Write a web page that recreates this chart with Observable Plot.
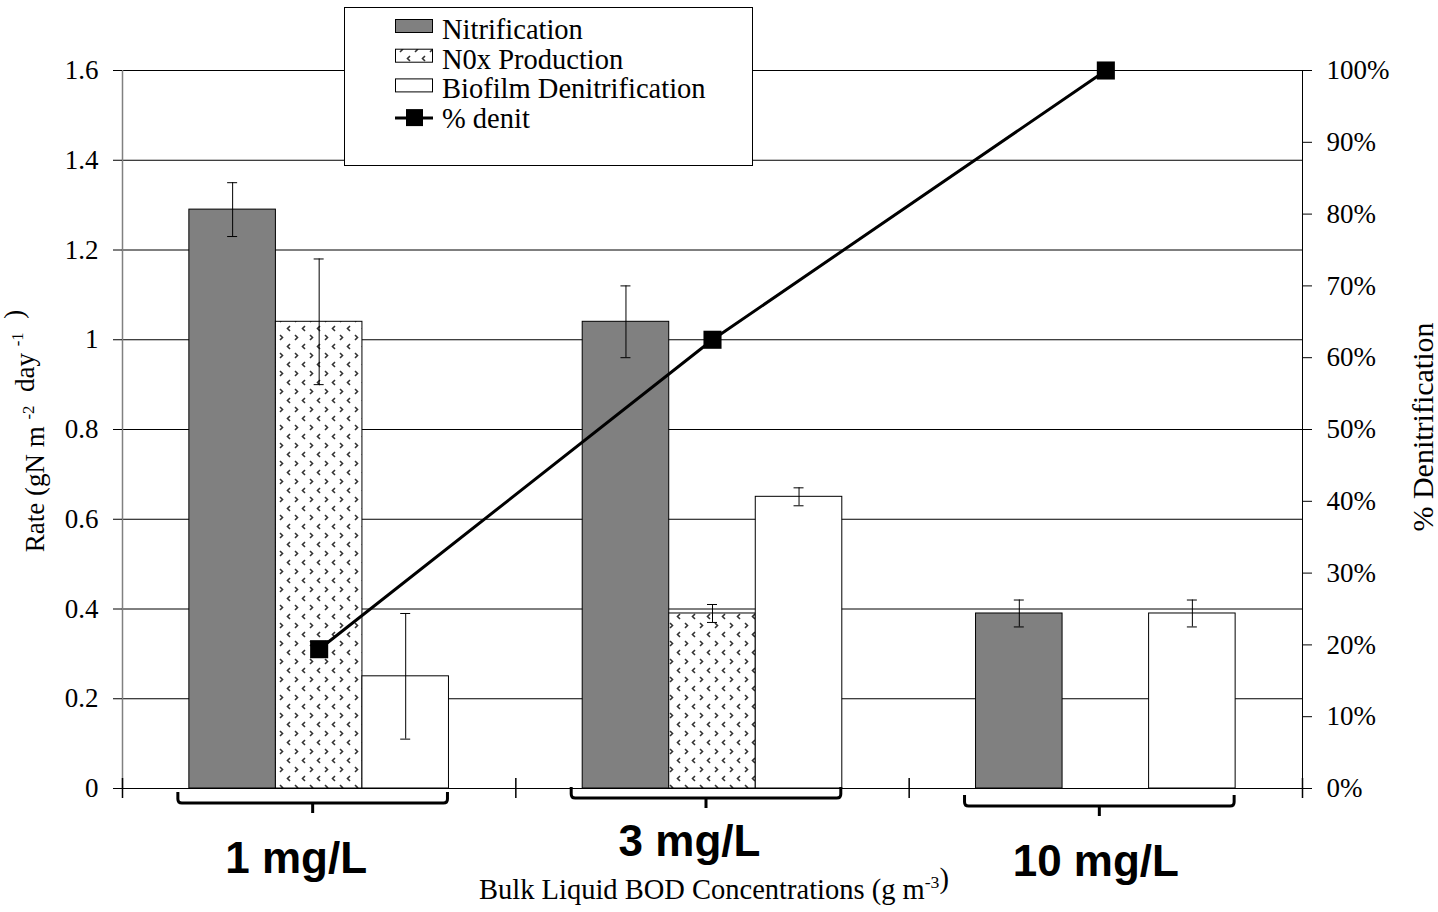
<!DOCTYPE html>
<html>
<head>
<meta charset="utf-8">
<script src="https://cdn.jsdelivr.net/npm/d3@7"></script>
<script src="https://cdn.jsdelivr.net/npm/@observablehq/plot@0.6"></script>
<style>
  body { margin: 0; background: #fff; }
  #chart { position: relative; width: 1438px; height: 912px; }
  #defs { position: absolute; width: 0; height: 0; }
</style>
</head>
<body>
<svg id="defs" aria-hidden="true">
  <defs>
    <pattern id="noxPattern" width="15" height="18" patternUnits="userSpaceOnUse">
      <rect width="15" height="18" fill="#fff"></rect>
      <path d="M5,2 L2.5,4.5 L5,7" fill="none" stroke="#333" stroke-width="1.6"></path>
      <path d="M10,11 L12.5,13.5 L10,16" fill="none" stroke="#333" stroke-width="1.6"></path>
    </pattern>
  </defs>
</svg>
<div id="chart"></div>
<script>
// Bulk liquid BOD concentration groups
const groups = ["1 mg/L", "3 mg/L", "10 mg/L"];

// Rates (gN m-2 day-1) and their error half-widths
const nitrification = [1.29, 1.04, 0.39];
const nitrificationErr = [0.06, 0.08, 0.03];
const noxProduction = [1.04, 0.39, 0];
const noxProductionErr = [0.14, 0.02, 0];
const biofilmDenit = [0.25, 0.65, 0.39];
const biofilmDenitErr = [0.14, 0.02, 0.03];

// Percentage of nitrified N that is denitrified
const pctDenit = [19.4, 62.5, 100];

// Axis ticks
const rateTicks = [0, 0.2, 0.4, 0.6, 0.8, 1, 1.2, 1.4, 1.6];
const pctTicks = [0, 10, 20, 30, 40, 50, 60, 70, 80, 90, 100];

const seriesNames = ["Nitrification", "N0x Production", "Biofilm Denitrification"];
const seriesFill = ["#808080", "url(#noxPattern)", "#ffffff"];
const seriesValues = [nitrification, noxProduction, biofilmDenit];
const seriesErr = [nitrificationErr, noxProductionErr, biofilmDenitErr];

const rateMax = 1.6;
const pctToRate = (p) => p / 100 * rateMax;
const barW = 0.22; // bar width as a fraction of one group

const rows = [];
seriesNames.forEach((name, j) => {
  groups.forEach((g, i) => {
    const x1 = i + 0.5 + (j - 1.5) * barW;
    rows.push({
      group: g, series: name, j,
      x1, x2: x1 + barW, xc: x1 + barW / 2,
      value: seriesValues[j][i], err: seriesErr[j][i]
    });
  });
});

const denitRows = groups.map((g, i) => ({ group: g, x: i + 0.5, pct: pctDenit[i] }));

// Bracket and label placement under each group (pixel offsets)
const bracketDrop = [4, -1, 7];
const labelDy = [84, 67, 87];
const labelDx = [-23, -23, -10];

function bracketMark(...args) {
  const scales = args.find((a) => a && typeof a.x === "function" && typeof a.y === "function");
  const g = d3.create("svg:g")
    .attr("fill", "none")
    .attr("stroke", "black")
    .attr("stroke-width", 3);
  groups.forEach((name, i) => {
    const xl = scales.x(i + 0.5 - 1.5 * barW) - 11;
    const xr = scales.x(i + 0.5 + 1.5 * barW) - 1;
    const xc = scales.x(i + 0.5) - 6;
    const y0 = scales.y(0) + bracketDrop[i];
    const h = 11, r = 4;
    g.append("path").attr("d",
      `M${xl},${y0} L${xl},${y0 + h - r} Q${xl},${y0 + h} ${xl + r},${y0 + h} ` +
      `L${xr - r},${y0 + h} Q${xr},${y0 + h} ${xr},${y0 + h - r} L${xr},${y0} ` +
      `M${xc},${y0 + h} L${xc},${y0 + h + 10}`);
  });
  return g.node();
}

const marks = [
  // horizontal gridlines
  Plot.ruleY(rateTicks.filter((d) => d > 0), { stroke: "black", strokeWidth: 1 }),
];

// bars, one mark per series
seriesNames.forEach((name, j) => {
  marks.push(Plot.rectY(rows.filter((d) => d.j === j), {
    x1: "x1", x2: "x2", y1: () => 0, y2: "value",
    fill: seriesFill[j], stroke: "black", strokeWidth: 1
  }));
});

marks.push(
  // error bars
  Plot.ruleX(rows, { x: "xc", y1: (d) => d.value - d.err, y2: (d) => d.value + d.err, stroke: "black", strokeWidth: 1 }),
  Plot.ruleY(rows, { x1: "xc", x2: "xc", y: (d) => d.value + d.err, insetLeft: -5, insetRight: -5, stroke: "black", strokeWidth: 1 }),
  Plot.ruleY(rows, { x1: "xc", x2: "xc", y: (d) => d.value - d.err, insetLeft: -5, insetRight: -5, stroke: "black", strokeWidth: 1 }),
  // axis lines
  Plot.ruleY([0], { stroke: "black", strokeWidth: 1 }),
  Plot.ruleX([0], { stroke: "#808080", strokeWidth: 1.5 }),
  Plot.ruleX([3], { stroke: "black", strokeWidth: 1 }),
  // group separators on the category axis
  Plot.ruleX([0, 1, 2, 3], { y1: () => 0, y2: () => 0, insetTop: -10, insetBottom: -10, stroke: "black", strokeWidth: 1.5 }),
  // % denitrification line on the secondary scale
  Plot.line(denitRows, { x: "x", y: (d) => pctToRate(d.pct), stroke: "black", strokeWidth: 3 }),
  Plot.dot(denitRows, { x: "x", y: (d) => pctToRate(d.pct), symbol: "square", r: 10.2, fill: "black", stroke: "none" }),
  // brackets and axes
  bracketMark,
  Plot.axisY({ anchor: "left", ticks: rateTicks, tickFormat: (d) => `${d}`, tickSize: 9, tickPadding: 15, label: null }),
  Plot.axisY({ anchor: "right", ticks: pctTicks.map(pctToRate), tickFormat: (d) => `${Math.round(d / rateMax * 100)}%`, tickSize: 9, tickPadding: 15, label: null })
);

groups.forEach((name, i) => {
  marks.push(Plot.text([{ name, x: i + 0.5 }], {
    x: "x", y: () => 0, text: "name",
    dy: labelDy[i], dx: labelDx[i], lineAnchor: "bottom", textAnchor: "middle",
    fontFamily: "Liberation Sans, Arial, sans-serif", fontWeight: "bold", fontSize: 44, fill: "black"
  }));
});

const chart = Plot.plot({
  width: 1438,
  height: 912,
  marginLeft: 122,
  marginRight: 136,
  marginTop: 70,
  marginBottom: 124,
  style: { fontFamily: "Liberation Serif, 'Times New Roman', serif", fontSize: "27px", color: "black", background: "white", overflow: "visible" },
  x: { type: "linear", domain: [0, 3], axis: null },
  y: { type: "linear", domain: [0, rateMax], axis: null },
  marks
});

document.getElementById("chart").appendChild(chart);

// Titles with superscripts, and the legend box
const svg = d3.select(chart);
const serif = "Liberation Serif, 'Times New Roman', serif";

function supText(sel, parts, size) {
  parts.forEach((p) => {
    if (p.sup) {
      sel.append("tspan").attr("font-size", size * 0.62).attr("dy", -size * 0.38).text(p.t);
      sel.append("tspan").attr("font-size", size).attr("dy", size * 0.38).text("");
    } else {
      sel.append("tspan").attr("font-size", size).text(p.t);
    }
  });
}

const yTitle = svg.append("text")
  .attr("transform", "translate(44,431) rotate(-90)")
  .attr("text-anchor", "middle").attr("font-family", serif).attr("fill", "black")
  .attr("xml:space", "preserve");
supText(yTitle, [{ t: "Rate (gN m " }, { t: "-2", sup: true }, { t: "  day " }, { t: "-1", sup: true }, { t: "  )" }], 27);

svg.append("text")
  .attr("transform", "translate(1433,427) rotate(-90)")
  .attr("text-anchor", "middle").attr("font-family", serif).attr("font-size", 30).attr("fill", "black")
  .text("% Denitrification");

const xTitle = svg.append("text")
  .attr("x", 714).attr("y", 899)
  .attr("text-anchor", "middle").attr("font-family", serif).attr("fill", "black");
supText(xTitle, [{ t: "Bulk Liquid BOD Concentrations (g m" }, { t: "-3", sup: true }, { t: ")" }], 28.5);

const legend = svg.append("g").attr("font-family", serif).attr("font-size", 28.5).attr("fill", "black")
  .attr("text-anchor", "start");
legend.append("rect").attr("x", 344.5).attr("y", 7.5).attr("width", 408).attr("height", 158)
  .attr("fill", "white").attr("stroke", "black").attr("stroke-width", 1);
const legendRows = [
  { label: seriesNames[0], fill: seriesFill[0] },
  { label: seriesNames[1], fill: seriesFill[1] },
  { label: seriesNames[2], fill: seriesFill[2] },
  { label: "% denit", line: true }
];
legendRows.forEach((row, k) => {
  const base = 39 + k * 29.7;
  if (row.line) {
    legend.append("line").attr("x1", 395).attr("x2", 433).attr("y1", base - 10).attr("y2", base - 10)
      .attr("stroke", "black").attr("stroke-width", 3);
    legend.append("rect").attr("x", 406).attr("y", base - 19).attr("width", 17).attr("height", 17).attr("fill", "black");
  } else {
    legend.append("rect").attr("x", 395.5).attr("y", base - 19.5).attr("width", 37).attr("height", 13)
      .attr("fill", row.fill).attr("stroke", "black").attr("stroke-width", 1);
  }
  legend.append("text").attr("x", 442).attr("y", base).text(row.label);
});
</script>
</body>
</html>
